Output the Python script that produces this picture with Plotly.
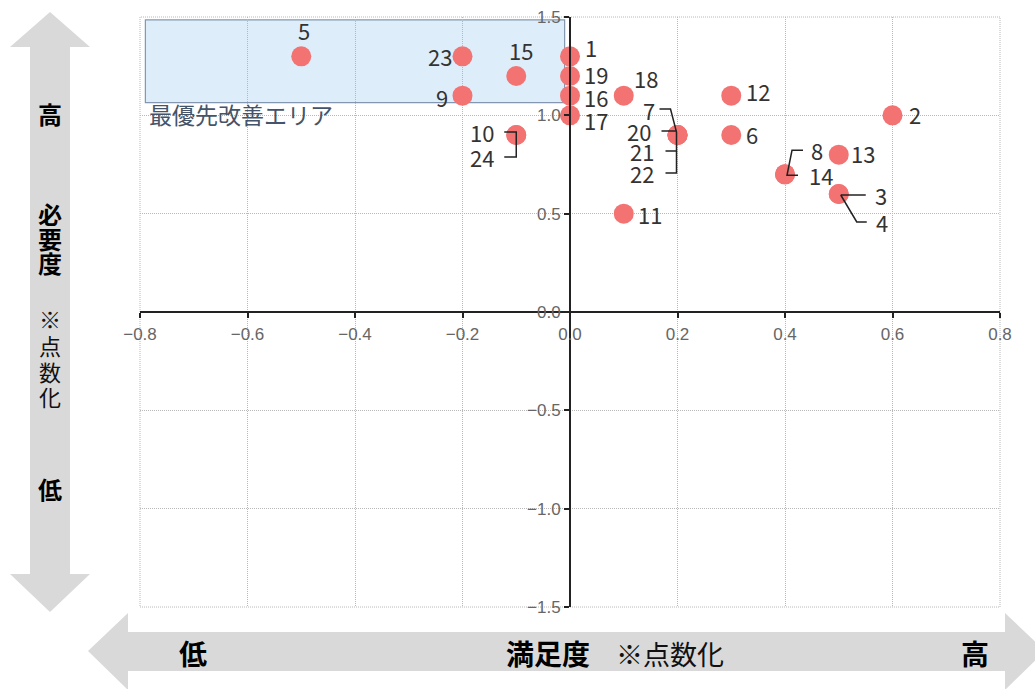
import plotly.graph_objects as go

# ---------------- data ----------------
item_ids = [str(i) for i in range(1, 25)]
satisfaction = [0.0, 0.6, 0.5, 0.5, -0.5, 0.3, 0.2, 0.4, -0.2, -0.1, 0.1, 0.3,
                0.5, 0.4, -0.1, 0.0, 0.0, 0.1, 0.0, 0.2, 0.2, 0.2, -0.2, -0.1]
necessity = [1.3, 1.0, 0.6, 0.6, 1.3, 0.9, 0.9, 0.7, 1.1, 0.9, 0.5, 1.1,
             0.8, 0.7, 1.2, 1.1, 1.0, 1.1, 1.2, 0.9, 0.9, 0.9, 1.3, 0.9]

x_ticks = [-0.8, -0.6, -0.4, -0.2, 0.0, 0.2, 0.4, 0.6, 0.8]
y_ticks = [-1.5, -1.0, -0.5, 0.0, 0.5, 1.0, 1.5]

# priority area (data units)
area_x = [-0.79, -0.01]
area_y = [1.065, 1.485]
area_label = "最優先改善エリア"

# label offsets in pixels (dx right, dy up) relative to each point
label_offsets = {
    "1": (21, 9), "2": (22, 1), "3": (42, -1), "4": (43, -28), "5": (3, 26),
    "6": (21, 1), "7": (-29, 25), "8": (32, 24), "9": (-21, -1), "10": (-34, 3),
    "11": (26, 0), "12": (27, 5), "13": (24, 2), "14": (36, -1), "15": (5, 26),
    "16": (26, -1), "17": (26, -5), "18": (22, 18), "19": (26, 2), "20": (-39, 4),
    "21": (-36, -16), "22": (-36, -38), "23": (-23, 0), "24": (-34, -22),
}

# leader lines: (anchor item, path in pixel offsets, up positive)
leaders = [
    ("10", "M -12 3 L 0 3 L 0 -22 L -12 -22"),
    ("7", "M -18 26 L -7 26 L -1 3 L -1 -38 L -12 -38"),
    ("7", "M -16 4 L -1 4"),
    ("7", "M -12 -16 L -1 -16"),
    ("8", "M 18 24 L 7 24 L 2 -1 L 13 -1"),
    ("3", "M 2 -1 L 27 -1"),
    ("3", "M 2 -1 L 18 -28 L 28 -28"),
]

# ---------------- layout helpers ----------------
W, H = 1035, 689
ML, MR, MT, MB = 140, 35, 17, 82
PW, PH = W - ML - MR, H - MT - MB


def px_x(px):
    return (px - ML) / PW


def px_y(py):
    return (H - MB - py) / PH


def poly(points):
    return "M " + " L ".join(f"{px_x(a):.5f} {px_y(b):.5f}" for a, b in points) + " Z"


fig = go.Figure()
fig.add_trace(go.Scatter(
    x=satisfaction, y=necessity, mode="markers",
    marker=dict(size=20, color="#F37272", line=dict(width=0)),
    hoverinfo="text", text=item_ids,
))

label_font = dict(family="Noto Sans CJK JP, Noto Sans, sans-serif", size=22, color="#333333")
annotations = []
for i, name in enumerate(item_ids):
    dx, dy = label_offsets[name]
    annotations.append(dict(
        x=satisfaction[i], y=necessity[i], xref="x", yref="y", text=name,
        showarrow=False, xshift=dx, yshift=dy, xanchor="center", yanchor="middle",
        font=label_font,
    ))

annotations.append(dict(
    x=area_x[0], y=1.0, xref="x", yref="y", text=area_label, showarrow=False,
    xanchor="left", yanchor="middle", xshift=2, yshift=1,
    font=dict(family="Noto Sans CJK JP, sans-serif", size=23, color="#44546A"),
))

shapes = []
# priority area
shapes.append(dict(type="rect", xref="x", yref="y", x0=area_x[0], x1=area_x[1],
                   y0=area_y[0], y1=area_y[1], fillcolor="#DDEEFA",
                   line=dict(color="#8497B0", width=1.2), layer="below"))
# plot frame (dotted like grid)
shapes.append(dict(type="rect", xref="paper", yref="paper", x0=0, x1=1, y0=0, y1=1,
                   line=dict(color="#B8B8B8", width=1, dash="1px,1px"), layer="below"))

# leader lines
idx = {n: i for i, n in enumerate(item_ids)}
for name, path in leaders:
    i = idx[name]
    shapes.append(dict(type="path", xref="x", yref="y", xsizemode="pixel", ysizemode="pixel",
                       xanchor=satisfaction[i], yanchor=necessity[i], path=path,
                       line=dict(color="#222222", width=1.5), layer="above"))

# vertical arrow (necessity)
arrow_gray = "#D9D9D9"
shapes.append(dict(type="path", xref="paper", yref="paper", fillcolor=arrow_gray,
                   line=dict(width=0), layer="below",
                   path=poly([(50, 12), (90, 47), (70, 47), (70, 574), (90, 574), (50, 612),
                              (10, 574), (30, 574), (30, 47), (10, 47)])))
# horizontal arrow (satisfaction)
shapes.append(dict(type="path", xref="paper", yref="paper", fillcolor=arrow_gray,
                   line=dict(width=0), layer="below",
                   path=poly([(88, 651), (128, 613), (128, 632), (1005, 632), (1005, 613),
                              (1045, 651), (1005, 690), (1005, 671), (128, 671), (128, 690)])))

side_bold = dict(family="Noto Sans CJK JP, sans-serif", size=24, color="#000000")
side_reg = dict(family="Noto Sans CJK JP, sans-serif", size=22, color="#111111")
bottom_bold = dict(family="Noto Sans CJK JP, sans-serif", size=28, color="#000000")
bottom_reg = dict(family="Noto Sans CJK JP, sans-serif", size=27, color="#111111")


def put_text(text, px, py, font, bold=True):
    t = f"<b>{text}</b>" if bold else text
    annotations.append(dict(x=px_x(px), y=px_y(py), xref="paper", yref="paper", text=t,
                            showarrow=False, xanchor="center", yanchor="middle", font=font))


# vertical axis caption (one character per position)
put_text("高", 50, 113, side_bold)
for ch, py in zip("必要度", [213, 238, 262]):
    put_text(ch, 50, py, side_bold)
for ch, py in zip("※点数化", [318, 345, 371, 396]):
    put_text(ch, 50, py, side_reg, bold=False)
put_text("低", 50, 488, side_bold)

# horizontal axis caption
put_text("低", 193, 653, bottom_bold)
put_text("満足度", 548, 653, bottom_bold)
put_text("※点数化", 670, 653, bottom_reg, bold=False)
put_text("高", 975, 653, bottom_bold)

tick_font = dict(family="Liberation Sans Narrow, Liberation Sans, Arial, sans-serif",
                 size=17, color="#666666")

axis_common = dict(showgrid=True, gridcolor="#B8B8B8", griddash="1px,1px", gridwidth=1,
                   zeroline=False, showline=True, linecolor="#222222", linewidth=2,
                   ticks="outside", ticklen=5, tickwidth=1.5, tickcolor="#222222",
                   anchor="free", position=0.5, tickfont=tick_font, automargin=False)

fig.update_layout(
    width=W, height=H, margin=dict(l=ML, r=MR, t=MT, b=MB, autoexpand=False),
    plot_bgcolor="white", paper_bgcolor="white", showlegend=False,
    shapes=shapes, annotations=annotations,
    xaxis=dict(range=[x_ticks[0], x_ticks[-1]], tickvals=x_ticks, ticklabelstandoff=2,
               ticktext=[f"{v:.1f}".replace("-", "−") for v in x_ticks], **axis_common),
    yaxis=dict(range=[y_ticks[0], y_ticks[-1]], tickvals=y_ticks,
               ticktext=[f"{v:.1f}".replace("-", "−") for v in y_ticks], **axis_common),
)

fig.write_html("out.html")
